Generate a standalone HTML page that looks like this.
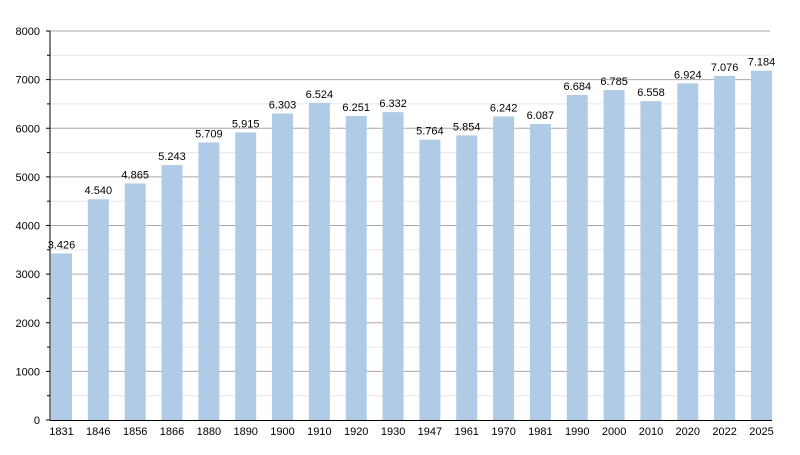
<!DOCTYPE html>
<html><head><meta charset="utf-8"><style>body{margin:0;background:#fff}</style></head><body>
<svg width="800" height="450" xmlns="http://www.w3.org/2000/svg" font-family="Liberation Sans, sans-serif" font-size="11">
<g stroke="#e6e6e6">
<line x1="50" x2="770" y1="395.7" y2="395.7"/><line x1="50" x2="770" y1="347.1" y2="347.1"/><line x1="50" x2="770" y1="298.4" y2="298.4"/><line x1="50" x2="770" y1="249.8" y2="249.8"/><line x1="50" x2="770" y1="201.2" y2="201.2"/><line x1="50" x2="770" y1="152.6" y2="152.6"/><line x1="50" x2="770" y1="103.9" y2="103.9"/><line x1="50" x2="770" y1="55.3" y2="55.3"/>
</g>
<g stroke="#aaa">
<line x1="50" x2="770" y1="371.4" y2="371.4"/><line x1="50" x2="770" y1="322.75" y2="322.75"/><line x1="50" x2="770" y1="274.1" y2="274.1"/><line x1="50" x2="770" y1="225.5" y2="225.5"/><line x1="50" x2="770" y1="176.9" y2="176.9"/><line x1="50" x2="770" y1="128.25" y2="128.25"/><line x1="50" x2="770" y1="79.6" y2="79.6"/><line x1="50" x2="770" y1="31" y2="31"/>
</g>
<g stroke="#000">
<line x1="46" x2="50" y1="420" y2="420"/><line x1="47" x2="50" y1="395.7" y2="395.7"/><line x1="46" x2="50" y1="371.4" y2="371.4"/><line x1="47" x2="50" y1="347.1" y2="347.1"/><line x1="46" x2="50" y1="322.75" y2="322.75"/><line x1="47" x2="50" y1="298.4" y2="298.4"/><line x1="46" x2="50" y1="274.1" y2="274.1"/><line x1="47" x2="50" y1="249.8" y2="249.8"/><line x1="46" x2="50" y1="225.5" y2="225.5"/><line x1="47" x2="50" y1="201.2" y2="201.2"/><line x1="46" x2="50" y1="176.9" y2="176.9"/><line x1="47" x2="50" y1="152.6" y2="152.6"/><line x1="46" x2="50" y1="128.25" y2="128.25"/><line x1="47" x2="50" y1="103.9" y2="103.9"/><line x1="46" x2="50" y1="79.6" y2="79.6"/><line x1="47" x2="50" y1="55.3" y2="55.3"/><line x1="46" x2="50" y1="31" y2="31"/>
</g>
<g text-anchor="end" fill="#000">
<text x="40" y="424">0</text><text x="40" y="375.4">1000</text><text x="40" y="326.75">2000</text><text x="40" y="278.1">3000</text><text x="40" y="229.5">4000</text><text x="40" y="180.9">5000</text><text x="40" y="132.25">6000</text><text x="40" y="83.6">7000</text><text x="40" y="35">8000</text>
</g>
<g fill="#b0cbe6">
<rect x="51" y="253.41" width="21" height="166.59"/>
<rect x="87.84" y="199.24" width="21" height="220.76"/>
<rect x="124.68" y="183.44" width="21" height="236.56"/>
<rect x="161.52" y="165.06" width="21" height="254.94"/>
<rect x="198.36" y="142.40" width="21" height="277.60"/>
<rect x="235.2" y="132.38" width="21" height="287.62"/>
<rect x="272.04" y="113.52" width="21" height="306.48"/>
<rect x="308.88" y="102.77" width="21" height="317.23"/>
<rect x="345.72" y="116.04" width="21" height="303.96"/>
<rect x="382.56" y="112.10" width="21" height="307.90"/>
<rect x="419.4" y="139.72" width="21" height="280.28"/>
<rect x="456.24" y="135.35" width="21" height="284.65"/>
<rect x="493.08" y="116.48" width="21" height="303.52"/>
<rect x="529.92" y="124.02" width="21" height="295.98"/>
<rect x="566.76" y="94.99" width="21" height="325.01"/>
<rect x="603.6" y="90.08" width="21" height="329.92"/>
<rect x="640.44" y="101.12" width="21" height="318.88"/>
<rect x="677.28" y="83.32" width="21" height="336.68"/>
<rect x="714.12" y="75.93" width="21" height="344.07"/>
<rect x="750.96" y="70.68" width="21" height="349.32"/>
</g>
<g text-anchor="middle" fill="#000">
<text x="61.5" y="248.4">3.426</text>
<text x="98.3" y="194.2">4.540</text>
<text x="135.2" y="178.4">4.865</text>
<text x="172" y="160.1">5.243</text>
<text x="208.9" y="137.4">5.709</text>
<text x="245.7" y="127.4">5.915</text>
<text x="282.5" y="108.5">6.303</text>
<text x="319.4" y="97.8">6.524</text>
<text x="356.2" y="111">6.251</text>
<text x="393.1" y="107.1">6.332</text>
<text x="429.9" y="134.7">5.764</text>
<text x="466.7" y="130.4">5.854</text>
<text x="503.6" y="111.5">6.242</text>
<text x="540.4" y="119">6.087</text>
<text x="577.3" y="90">6.684</text>
<text x="614.1" y="85.1">6.785</text>
<text x="651" y="96.1">6.558</text>
<text x="687.8" y="78.3">6.924</text>
<text x="724.6" y="70.9">7.076</text>
<text x="761.5" y="65.7">7.184</text>
</g>
<g text-anchor="middle" fill="#000">
<text x="61.5" y="435">1831</text><text x="98.3" y="435">1846</text><text x="135.2" y="435">1856</text><text x="172" y="435">1866</text><text x="208.9" y="435">1880</text><text x="245.7" y="435">1890</text><text x="282.5" y="435">1900</text><text x="319.4" y="435">1910</text><text x="356.2" y="435">1920</text><text x="393.1" y="435">1930</text><text x="429.9" y="435">1947</text><text x="466.7" y="435">1961</text><text x="503.6" y="435">1970</text><text x="540.4" y="435">1981</text><text x="577.3" y="435">1990</text><text x="614.1" y="435">2000</text><text x="651" y="435">2010</text><text x="687.8" y="435">2020</text><text x="724.6" y="435">2022</text><text x="761.5" y="435">2025</text>
</g>
<line x1="50" x2="50" y1="31" y2="420.5" stroke="#000"/>
<line x1="50" x2="772" y1="420.5" y2="420.5" stroke="#000"/>
</svg>
</body></html>
